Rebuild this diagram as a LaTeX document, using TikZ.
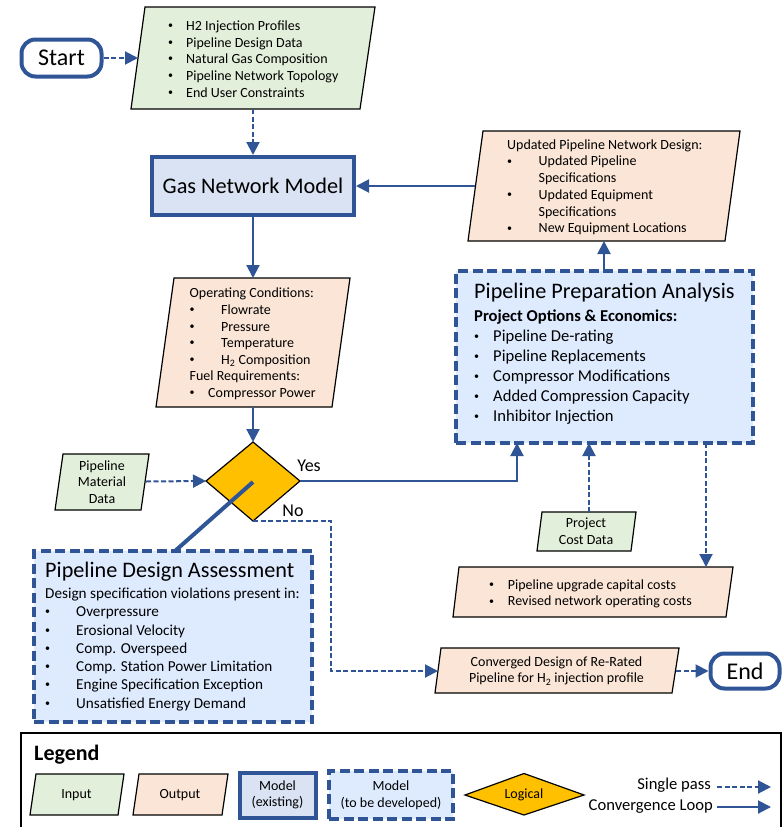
\documentclass[tikz,border=0pt]{standalone}
\usepackage{fontspec}
\setmainfont{Carlito}
\usetikzlibrary{arrows.meta}
\definecolor{bl}{HTML}{2F5597}
\definecolor{inp}{HTML}{E2EFDA}
\definecolor{outp}{HTML}{FBE5D6}
\definecolor{mod}{HTML}{DAE3F3}
\definecolor{dev}{HTML}{DEEBFF}
\definecolor{logi}{HTML}{FFC000}
\tikzset{
  x=1pt,y=-1pt,
  para/.style={draw=black,line width=1.2pt,line join=miter},
  inbox/.style={para,fill=inp},
  outbox/.style={para,fill=outp},
  modelbox/.style={draw=bl,line width=4pt,fill=mod},
  devbox/.style={draw=bl,line width=4pt,fill=dev,dash pattern=on 10pt off 4.5pt},
  logic/.style={draw=black,line width=1.2pt,fill=logi},
  term/.style={draw=bl,line width=4pt,fill=white,rounded corners=14pt},
  solidarrow/.style={draw=bl,line width=2pt,-{Triangle[length=13pt,width=13pt]}},
  dasharrow/.style={solidarrow,dash pattern=on 5pt off 2.5pt},
  txt/.style={inner sep=0pt,anchor=base west,yshift=-5pt,font=\fontsize{14}{16}\selectfont},
  ctxt/.style={inner sep=0pt,align=center,font=\fontsize{14}{16.6}\selectfont},
  big/.style={inner sep=0pt,anchor=base west,yshift=-6pt,font=\fontsize{22.2}{26}\selectfont},
  mid/.style={inner sep=0pt,anchor=base west,yshift=-5.2pt,font=\fontsize{15.2}{18}\selectfont},
  prep/.style={inner sep=0pt,anchor=base west,yshift=-5.3pt,font=\fontsize{16.6}{20}\selectfont},
}
\newcommand{\blt}{\raisebox{0.12em}{\fontsize{10}{10}\selectfont\textbullet}}
\begin{document}
\begin{tikzpicture}
\useasboundingbox (0,0) rectangle (782,827);
% input
\draw[inbox] (145,7)--(375,7)--(360,109)--(131,109)--cycle;
\coordinate (inL) at (138,58); \coordinate (inB) at (253,109);
\foreach \y/\t in {25/H2 Injection Profiles,42/Pipeline Design Data,58.5/Natural Gas Composition,75.5/Pipeline Network Topology,92/End User Constraints}{
 \node[txt] at (168,\y) {\blt}; \node[txt] at (186,\y) {\t};}
% start
\node[term,minimum width=80pt,minimum height=37pt,inner sep=0pt,font=\fontsize{24}{28}\selectfont] (start) at (61.5,58) {Start};
% gas network model
\node[modelbox,minimum width=202pt,minimum height=58pt,inner sep=0pt,font=\fontsize{22.3}{26}\selectfont] (gnm) at (253,186) {Gas Network Model};
% operating output
\draw[outbox] (174,278)--(350,278)--(332,407)--(156,407)--cycle;
\coordinate (opT) at (253,278); \coordinate (opB) at (253,407);
\node[txt] at (189.5,292.7) {Operating Conditions:};
\foreach \y/\t in {309.3/Flowrate,326/Pressure,342.6/Temperature,359/H\textsubscript{2} Composition}{
 \node[txt] at (189.5,\y) {\blt}; \node[txt] at (221,\y) {\t};}
\node[txt] at (189.5,375.8) {Fuel Requirements:};
\node[txt] at (189.5,392.4) {\blt}; \node[txt] at (208,392.4) {Compressor Power};
% diamond
\draw[logic] (206,481)--(253,442)--(300,481)--(253,521)--cycle;
\coordinate (dT) at (253,442); \coordinate (dL) at (206,481); \coordinate (dR) at (300,481); \coordinate (dB) at (253,521); \coordinate (dC) at (253,482);
\node[inner sep=0pt,font=\fontsize{18}{20}\selectfont] at (309,466) {Yes};
\node[inner sep=0pt,font=\fontsize{18}{20}\selectfont] at (293,511) {No};
% material
\draw[inbox] (63,454)--(149,454)--(141,510)--(55,510)--cycle;
\coordinate (matR) at (146,481.5);
\node[ctxt] at (102,482) {Pipeline\\Material\\Data};
% design box
\node[devbox,minimum width=278pt,minimum height=171pt,inner sep=0pt] (design) at (173,636.5) {};
\node[big] at (45,571) {Pipeline Design Assessment};
\node[mid] at (45,593) {Design specification violations present in:};
\foreach \y/\t in {611.5/Overpressure,630/Erosional Velocity,648/Comp. Overspeed,666.5/Comp. Station Power Limitation,684.5/Engine Specification Exception,703/Unsatisfied Energy Demand}{
 \node[mid] at (45,\y) {\blt}; \node[mid] at (76,\y) {\t};}
% updated
\draw[outbox] (483,131)--(740,131)--(725,241)--(468,241)--cycle;
\coordinate (upL) at (475,186); \coordinate (upB) at (604,241);
\node[txt] at (507,144.3) {Updated Pipeline Network Design:};
\foreach \y/\t in {160.7/Updated Pipeline,194.3/Updated Equipment,227.7/New Equipment Locations}{
 \node[txt] at (507,\y) {\blt}; \node[txt] at (538.5,\y) {\t};}
\node[txt] at (538.5,177.3) {Specifications};
\node[txt] at (538.5,211) {Specifications};
% prep
\node[devbox,minimum width=297pt,minimum height=172pt,inner sep=0pt] (prepbox) at (604.5,357) {};
\coordinate (prT) at (604,271); \coordinate (prB1) at (517,443); \coordinate (prB2) at (589,443); \coordinate (prB3) at (706,443);
\node[big] at (474,292.3) {Pipeline Preparation Analysis};
\node[prep] at (474,316.4) {\textbf{Project Options \& Economics:}};
\foreach \y/\t in {336.4/Pipeline De-rating,356.4/Pipeline Replacements,376.4/Compressor Modifications,396.4/Added Compression Capacity,416.4/Inhibitor Injection}{
 \node[prep] at (474,\y) {\blt}; \node[prep] at (493,\y) {\t};}
% project
\draw[inbox] (542,512)--(636,512)--(631,551)--(537,551)--cycle;
\coordinate (pjT) at (589,512);
\node[ctxt] at (586,531.5) {Project\\Cost Data};
% capital
\draw[outbox] (459,567)--(733,567)--(726,617)--(453,617)--cycle;
\coordinate (capT) at (706,567);
\node[txt] at (489,584) {\blt}; \node[txt] at (507.7,584) {Pipeline upgrade capital costs};
\node[txt] at (489,600.7) {\blt}; \node[txt] at (507.7,600.7) {Revised network operating costs};
% converged
\draw[outbox] (441,648)--(679,648)--(672,693)--(435,693)--cycle;
\coordinate (cvL) at (438,671); \coordinate (cvR) at (676,671);
\node[ctxt] at (556.5,671) {Converged Design of Re-Rated\\Pipeline for H\textsubscript{2} injection profile};
% end
\node[term,minimum width=69pt,minimum height=35pt,inner sep=0pt,font=\fontsize{24}{28}\selectfont] (endn) at (745,671) {End};
% connectors
\draw[dasharrow] (start.east)--(inL);
\draw[dasharrow] (inB)--(gnm.north);
\draw[solidarrow] (gnm.south)--(opT);
\draw[solidarrow] (opB)--(dT);
\draw[solidarrow] (upL)--(gnm.east);
\draw[solidarrow] (prT)--(upB);
\draw[solidarrow] (dR)--(517,481)--(prB1);
\draw[dasharrow] (matR)--(dL);
\draw[dasharrow] (pjT)--(prB2);
\draw[dasharrow] (prB3)--(capT);
\draw[dasharrow] (dB)--(331,521)--(331,671)--(cvL);
\draw[dasharrow] (cvR)--(endn.west);
\draw[draw=bl,line width=4pt] (dC)--(175,551);
% legend
\draw[black,line width=1.5pt] (21,733) rectangle (781,830);
\node[inner sep=0pt,anchor=west,font=\fontsize{22}{24}\selectfont\bfseries] at (34,755) {Legend};
\draw[inbox] (36,774)--(124,774)--(118,815)--(30,815)--cycle;
\node[ctxt] at (76.5,795) {Input};
\draw[outbox] (139,774)--(228,774)--(222,815)--(133,815)--cycle;
\node[ctxt] at (180,795) {Output};
\node[modelbox,minimum width=76pt,minimum height=45pt,inner sep=0pt,align=center,font=\fontsize{14}{16.6}\selectfont] (lgm) at (277.5,795) {Model\\(existing)};
\node[devbox,minimum width=124pt,minimum height=48pt,inner sep=0pt,align=center,font=\fontsize{14}{16.6}\selectfont] (lgd) at (391,795) {Model\\(to be developed)};
\draw[logic] (465,795)--(524,773.5)--(584,795)--(524,815)--cycle;
\node[ctxt] at (524,795) {Logical};
\node[inner sep=0pt,anchor=east,font=\fontsize{16.6}{18}\selectfont] at (711,785) {Single pass};
\node[inner sep=0pt,anchor=east,font=\fontsize{16.6}{18}\selectfont] at (713,807) {Convergence Loop};
\coordinate (sp1) at (717,787); \coordinate (sp2) at (771,787);
\coordinate (cl1) at (717,807); \coordinate (cl2) at (771,807);
\draw[dasharrow] (sp1)--(sp2);
\draw[solidarrow] (cl1)--(cl2);
\end{tikzpicture}
\end{document}
